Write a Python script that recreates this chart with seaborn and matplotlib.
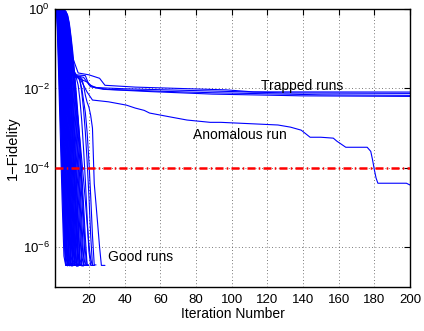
import numpy as np
import pandas as pd
import matplotlib
matplotlib.use("Agg")
import matplotlib.pyplot as plt
from matplotlib.ticker import FixedLocator, NullLocator, LogFormatterSciNotation
import seaborn as sns

# ---- data -------------------------------------------------------------
# Good runs: infidelity per iteration, starting at iteration 1
good_runs = [
    [1.0, 0.9, 2.5e-2, 6e-4, 1.5e-5, 6e-7, 3.5e-7],
    [1.0, 0.93, 6e-2, 2e-3, 6e-5, 2e-6, 3.6e-7, 3.6e-7],
    [1.0, 0.94, 0.1, 4e-3, 1e-4, 3e-6, 3.5e-7, 3.5e-7],
    [1.0, 0.95, 0.15, 6e-3, 2e-4, 7e-6, 4e-7, 3.4e-7],
    [1.0, 0.96, 0.25, 1e-2, 3.5e-4, 1.2e-5, 6e-7, 3.6e-7],
    [1.0, 0.96, 0.35, 1.5e-2, 6e-4, 2.5e-5, 1.2e-6, 3.5e-7, 3.5e-7],
    [1.0, 0.97, 0.5, 2.5e-2, 1.2e-3, 5e-5, 2e-6, 3.5e-7, 3.5e-7],
    [1.0, 0.97, 0.6, 4e-2, 2e-3, 8e-5, 4e-6, 3.7e-7, 3.7e-7],
    [1.0, 0.98, 0.7, 7e-2, 3.5e-3, 1.8e-4, 8e-6, 5e-7, 3.4e-7],
    [1.0, 0.98, 0.8, 9e-2, 5e-3, 2.5e-4, 1.2e-5, 7e-7, 3.5e-7, 3.5e-7],
    [1.0, 0.98, 0.85, 0.18, 1e-2, 6e-4, 3e-5, 1.8e-6, 3.5e-7, 3.5e-7],
    [1.0, 0.98, 0.88, 0.25, 1.5e-2, 9e-4, 5e-5, 3e-6, 3.5e-7, 3.5e-7],
    [1.0, 0.99, 0.9, 0.4, 3.5e-2, 2e-3, 1.2e-4, 7e-6, 5e-7, 3.6e-7],
    [1.0, 0.99, 0.9, 0.5, 5e-2, 3e-3, 1.8e-4, 1e-5, 6e-7, 3.4e-7, 3.4e-7],
    [1.0, 0.99, 0.92, 0.6, 8e-2, 6e-3, 4e-4, 2.5e-5, 1.5e-6, 3.5e-7, 3.5e-7],
    [1.0, 0.99, 0.93, 0.7, 0.12, 9e-3, 6e-4, 4e-5, 2.5e-6, 3.6e-7, 3.6e-7],
    [1.0, 0.99, 0.94, 0.75, 0.2, 1.6e-2, 1.3e-3, 9e-5, 6e-6, 4e-7, 3.5e-7],
    [1.0, 0.99, 0.95, 0.8, 0.3, 2.5e-2, 2e-3, 1.4e-4, 9e-6, 6e-7, 3.5e-7],
    [1.0, 1.0, 0.96, 0.84, 0.4, 4e-2, 3.5e-3, 3e-4, 2e-5, 1.5e-6, 3.5e-7, 3.5e-7],
    [1.0, 0.99, 0.96, 0.86, 0.5, 6e-2, 5e-3, 4e-4, 3e-5, 2e-6, 3.5e-7, 3.5e-7],
    [1.0, 1.0, 0.97, 0.88, 0.55, 0.1, 1e-2, 8e-4, 6e-5, 4e-6, 4e-7, 3.6e-7],
    [1.0, 1.0, 0.97, 0.9, 0.65, 0.15, 1.5e-2, 1.2e-3, 9e-5, 6e-6, 5e-7, 3.5e-7, 3.5e-7],
    [1.0, 1.0, 0.97, 0.91, 0.7, 0.22, 2.5e-2, 2.5e-3, 2e-4, 1.4e-5, 1e-6, 3.5e-7, 3.5e-7],
    [1.0, 1.0, 0.98, 0.92, 0.75, 0.3, 4e-2, 4e-3, 3e-4, 2e-5, 1.5e-6, 3.6e-7, 3.6e-7],
    [1.0, 1.0, 0.98, 0.93, 0.78, 0.38, 7e-2, 7e-3, 6e-4, 4.5e-5, 3.5e-6, 3.5e-7, 3.5e-7],
    [1.0, 1.0, 0.98, 0.94, 0.82, 0.45, 0.1, 1.2e-2, 1e-3, 8e-5, 6e-6, 5e-7, 3.4e-7, 3.4e-7],
    [1.0, 1.0, 0.98, 0.95, 0.84, 0.52, 0.15, 2e-2, 2e-3, 1.7e-4, 1.3e-5, 1e-6, 3.4e-7, 3.4e-7],
    [1.0, 1.0, 0.98, 0.95, 0.86, 0.6, 0.2, 3e-2, 3e-3, 2.5e-4, 2e-5, 1.5e-6, 3.5e-7, 3.5e-7],
    [1.0, 1.0, 0.99, 0.96, 0.87, 0.65, 0.25, 4.5e-2, 5.5e-3, 5.5e-4, 5e-5, 4e-6, 4e-7, 3.5e-7],
    [1.0, 1.0, 0.99, 0.96, 0.88, 0.7, 0.3, 6e-2, 8e-3, 8e-4, 7e-5, 5e-6, 4e-7, 3.5e-7],
    [1.0, 1.0, 0.99, 0.96, 0.9, 0.75, 0.4, 0.1, 1.5e-2, 1.8e-3, 1.8e-4, 1.5e-5, 1.2e-6, 3.5e-7, 3.5e-7],
    [1.0, 1.0, 0.99, 0.97, 0.91, 0.78, 0.45, 0.13, 2.2e-2, 3e-3, 3e-4, 2.8e-5, 2.2e-6, 3.6e-7, 3.6e-7],
    [1.0, 1.0, 0.99, 0.97, 0.92, 0.8, 0.5, 0.16, 3e-2, 4e-3, 4e-4, 4e-5, 3e-6, 3.6e-7, 3.6e-7, 3.6e-7],
    [1.0, 1.0, 0.99, 0.98, 0.93, 0.83, 0.58, 0.22, 5e-2, 8e-3, 9e-4, 9e-5, 7e-6, 6e-7, 3.5e-7],
    [1.0, 1.0, 0.99, 0.97, 0.93, 0.84, 0.6, 0.25, 6e-2, 9e-3, 1e-3, 1e-4, 8e-6, 7e-7, 3.5e-7, 3.5e-7],
    [1.0, 1.0, 0.99, 0.98, 0.94, 0.86, 0.65, 0.3, 9e-2, 1.8e-2, 3e-3, 3.5e-4, 3e-5, 2.5e-6, 3.6e-7, 3.6e-7],
    [1.0, 1.0, 1.0, 0.98, 0.95, 0.87, 0.68, 0.35, 0.1, 2e-2, 3e-3, 3.5e-4, 3.5e-5, 3e-6, 3.5e-7, 3.5e-7],
    [1.0, 1.0, 0.99, 0.98, 0.95, 0.88, 0.7, 0.38, 0.13, 3e-2, 5e-3, 7e-4, 7e-5, 6e-6, 5e-7, 3.4e-7, 3.4e-7],
    [1.0, 1.0, 0.99, 0.98, 0.95, 0.9, 0.75, 0.45, 0.18, 5e-2, 1e-2, 1.5e-3, 1.8e-4, 2e-5, 2e-6, 3.5e-7, 3.5e-7],
    [1.0, 1.0, 1.0, 0.98, 0.96, 0.9, 0.78, 0.5, 0.22, 7e-2, 1.8e-2, 3.5e-3, 5e-4, 6e-5, 6e-6, 6e-7, 3.5e-7, 3.5e-7],
    [1.0, 1.0, 1.0, 0.99, 0.96, 0.91, 0.8, 0.55, 0.28, 0.1, 3e-2, 6e-3, 1e-3, 1.4e-4, 1.6e-5, 1.8e-6, 3.6e-7, 3.6e-7],
    [1.0, 1.0, 1.0, 0.99, 0.97, 0.92, 0.82, 0.6, 0.32, 0.12, 4e-2, 1e-2, 2e-3, 3e-4, 4e-5, 5e-6, 6e-7, 3.5e-7, 3.5e-7],
    [1.0, 1.0, 1.0, 0.99, 0.97, 0.93, 0.85, 0.65, 0.35, 0.14, 5e-2, 1.4e-2, 3.5e-3, 7e-4, 1.2e-4, 1.8e-5, 2.5e-6, 4e-7, 3.5e-7],
    [1.0, 1.0, 1.0, 0.99, 0.97, 0.94, 0.87, 0.7, 0.4, 0.17, 6e-2, 1.8e-2, 5e-3, 1.2e-3, 2.5e-4, 4e-5, 6e-6, 8e-7, 3.5e-7, 3.5e-7],
    [1.0, 1.0, 1.0, 0.99, 0.98, 0.95, 0.88, 0.72, 0.45, 0.2, 8e-2, 2.5e-2, 7e-3, 1.8e-3, 4e-4, 7e-5, 1.2e-5, 1.8e-6, 3.6e-7, 3.6e-7],
    [1.0, 1.0, 1.0, 0.99, 0.97, 0.93, 0.8, 0.5, 0.2, 7e-2, 2.5e-2, 1e-2, 4e-3, 1.5e-3, 5e-4, 1.6e-4, 5e-5, 1.5e-5, 4e-6, 1.2e-6, 5e-7, 3.5e-7, 3.5e-7],
    [1.0, 1.0, 0.99, 0.97, 0.9, 0.7, 0.35, 0.12, 5e-2, 3e-2, 2.5e-2, 2e-2, 1.8e-2, 1.2e-2, 5e-3, 1.5e-3, 3e-4, 5e-5, 6e-6, 8e-7, 3.5e-7, 3.5e-7],
    [1.0, 1.0, 0.99, 0.96, 0.88, 0.65, 0.3, 0.1, 4e-2, 3e-2, 2.2e-2, 2e-2, 2e-2, 1.9e-2, 1.6e-2, 8e-3, 3e-3, 8e-4, 1.5e-4, 2e-5, 2e-6, 3.5e-7, 3.5e-7],
    [1.0, 1.0, 0.99, 0.97, 0.9, 0.7, 0.32, 0.11, 4.5e-2, 3e-2, 2.4e-2, 2.1e-2, 2e-2, 2e-2, 1.5e-2, 1e-2, 5e-3, 2.5e-3, 8e-4, 1.5e-4, 2e-5, 2e-6, 3.6e-7, 3.6e-7],
    [1.0, 1.0, 0.99, 0.97, 0.9, 0.72, 0.35, 0.12, 5e-2, 4e-2, 2.5e-2, 2.2e-2, 2.1e-2, 2e-2, 1.9e-2, 1.8e-2, 1.2e-2, 6.8e-3, 4.5e-3, 3.4e-3, 2.1e-3, 1e-3, 4e-5, 1.2e-5, 3.5e-6, 1e-6, 3.5e-7, 3.5e-7, 3.5e-7],
]

# Trapped runs: (iterations, infidelity)
trapped_iters = [
    [1, 3, 5, 7, 9, 11, 14, 20, 26, 29, 46, 90, 97, 112, 200],
    [1, 3, 5, 7, 9, 11, 13, 18, 20, 24, 40, 89, 130, 200],
    [1, 3, 5, 7, 9, 11, 13, 19, 22, 30, 60, 89, 150, 200],
    [1, 3, 5, 7, 9, 11, 13, 17, 21, 28, 55, 89, 140, 200],
]
trapped_vals = [
    [1.0, 0.98, 0.8, 0.3, 0.1, 5.8e-2, 2.45e-2, 2.2e-2, 1.8e-2, 1.2e-2, 1.08e-2, 9.4e-3, 9.2e-3, 8.2e-3, 8.1e-3],
    [1.0, 0.97, 0.7, 0.2, 6e-2, 3e-2, 2.2e-2, 2.1e-2, 1.25e-2, 1.05e-2, 9.8e-3, 8.6e-3, 7.7e-3, 7.5e-3],
    [1.0, 0.97, 0.75, 0.25, 7e-2, 3e-2, 1.9e-2, 1.45e-2, 1.1e-2, 9.5e-3, 8.5e-3, 7.8e-3, 6.9e-3, 6.7e-3],
    [1.0, 0.96, 0.6, 0.15, 5e-2, 2.8e-2, 2.1e-2, 1.9e-2, 1.1e-2, 9.5e-3, 8.3e-3, 7.2e-3, 6.5e-3, 6.3e-3],
]

# Anomalous run: (iterations, infidelity)
anomalous_iters = [1, 2, 3, 4, 5, 6, 7, 8, 9, 11, 13, 15, 19, 22, 31, 41, 46, 51, 54, 66,
                   75, 88, 94, 116, 126, 133, 139, 144, 150, 157, 159, 164, 176, 178,
                   179, 180, 181, 182, 198, 200]
anomalous_vals = [1.0, 1.0, 0.98, 0.9, 0.6, 0.25, 0.1, 5e-2, 3e-2, 2.2e-2, 2e-2, 1.8e-2,
                  8.1e-3, 5.1e-3, 4.6e-3, 3.8e-3, 3.2e-3, 2.8e-3, 2.4e-3, 1.9e-3,
                  1.6e-3, 1.4e-3, 1.4e-3, 1.26e-3, 1.2e-3, 1.06e-3, 8.9e-4, 5.9e-4, 5.9e-4,
                  5.6e-4, 4.7e-4, 3.3e-4, 3.3e-4, 2.6e-4, 1.6e-4, 9e-5, 5.5e-5, 4.1e-5,
                  4.1e-5, 3.7e-5]

threshold = 1e-4
x_ticks = [20, 40, 60, 80, 100, 120, 140, 160, 180, 200]
y_ticks = [1e-6, 1e-4, 1e-2, 1e0]

# ---- long-form table, one row per (run, iteration) --------------------
rows = []
run_id = 0
for vals in good_runs:
    for i, v in enumerate(vals):
        rows.append((run_id, i + 1, v))
    run_id += 1
for its, vals in zip(trapped_iters, trapped_vals):
    for i, v in zip(its, vals):
        rows.append((run_id, i, v))
    run_id += 1
for i, v in zip(anomalous_iters, anomalous_vals):
    rows.append((run_id, i, v))
df = pd.DataFrame(rows, columns=["run", "iteration", "infidelity"])

# ---- styling ----------------------------------------------------------
sns.set_theme(style="white", rc={
    "axes.edgecolor": "black",
    "axes.linewidth": 1.0,
    "xtick.color": "black",
    "ytick.color": "black",
    "text.color": "black",
    "axes.labelcolor": "black",
})
plt.rcParams["font.family"] = ["Liberation Sans", "DejaVu Sans"]

fig = plt.figure(figsize=(4.24, 3.31), dpi=100)
ax = fig.add_axes([55 / 424, 1 - 287 / 331, (410 - 55) / 424, (287 - 9) / 331])

sns.lineplot(data=df, x="iteration", y="infidelity", units="run", estimator=None,
             color="blue", linewidth=0.8, legend=False, sort=False, ax=ax)

ax.axhline(threshold, color="red", linewidth=1.8, linestyle=(0, (3.2, 1.3, 0.6, 1.3)), zorder=3)

ax.set_yscale("log")
ax.set_xlim(1, 200)
ax.set_ylim(1e-7, 1)
ax.xaxis.set_major_locator(FixedLocator(x_ticks))
ax.yaxis.set_major_locator(FixedLocator(y_ticks))
ax.yaxis.set_major_formatter(LogFormatterSciNotation())
ax.yaxis.set_minor_locator(NullLocator())
ax.xaxis.set_minor_locator(NullLocator())

ax.grid(True, which="major", linestyle=(0, (1, 3)), color="0.3", linewidth=0.6)
ax.tick_params(direction="in", length=4, width=0.8, top=True, right=True,
               labelsize=9.5)
ax.tick_params(axis="x", pad=5)

ax.set_xlabel("Iteration Number", fontsize=10, labelpad=1)
ax.set_ylabel("1\u2212Fidelity", fontsize=10.5, labelpad=2)

ax.text(116.2, 9.1e-3, "Trapped runs", fontsize=10, va="baseline", ha="left")
ax.text(78.6, 5.2e-4, "Anomalous run", fontsize=10, va="baseline", ha="left")
ax.text(30.5, 4.5e-7, "Good runs", fontsize=10, va="baseline", ha="left")

fig.savefig("out.png", dpi=100)
